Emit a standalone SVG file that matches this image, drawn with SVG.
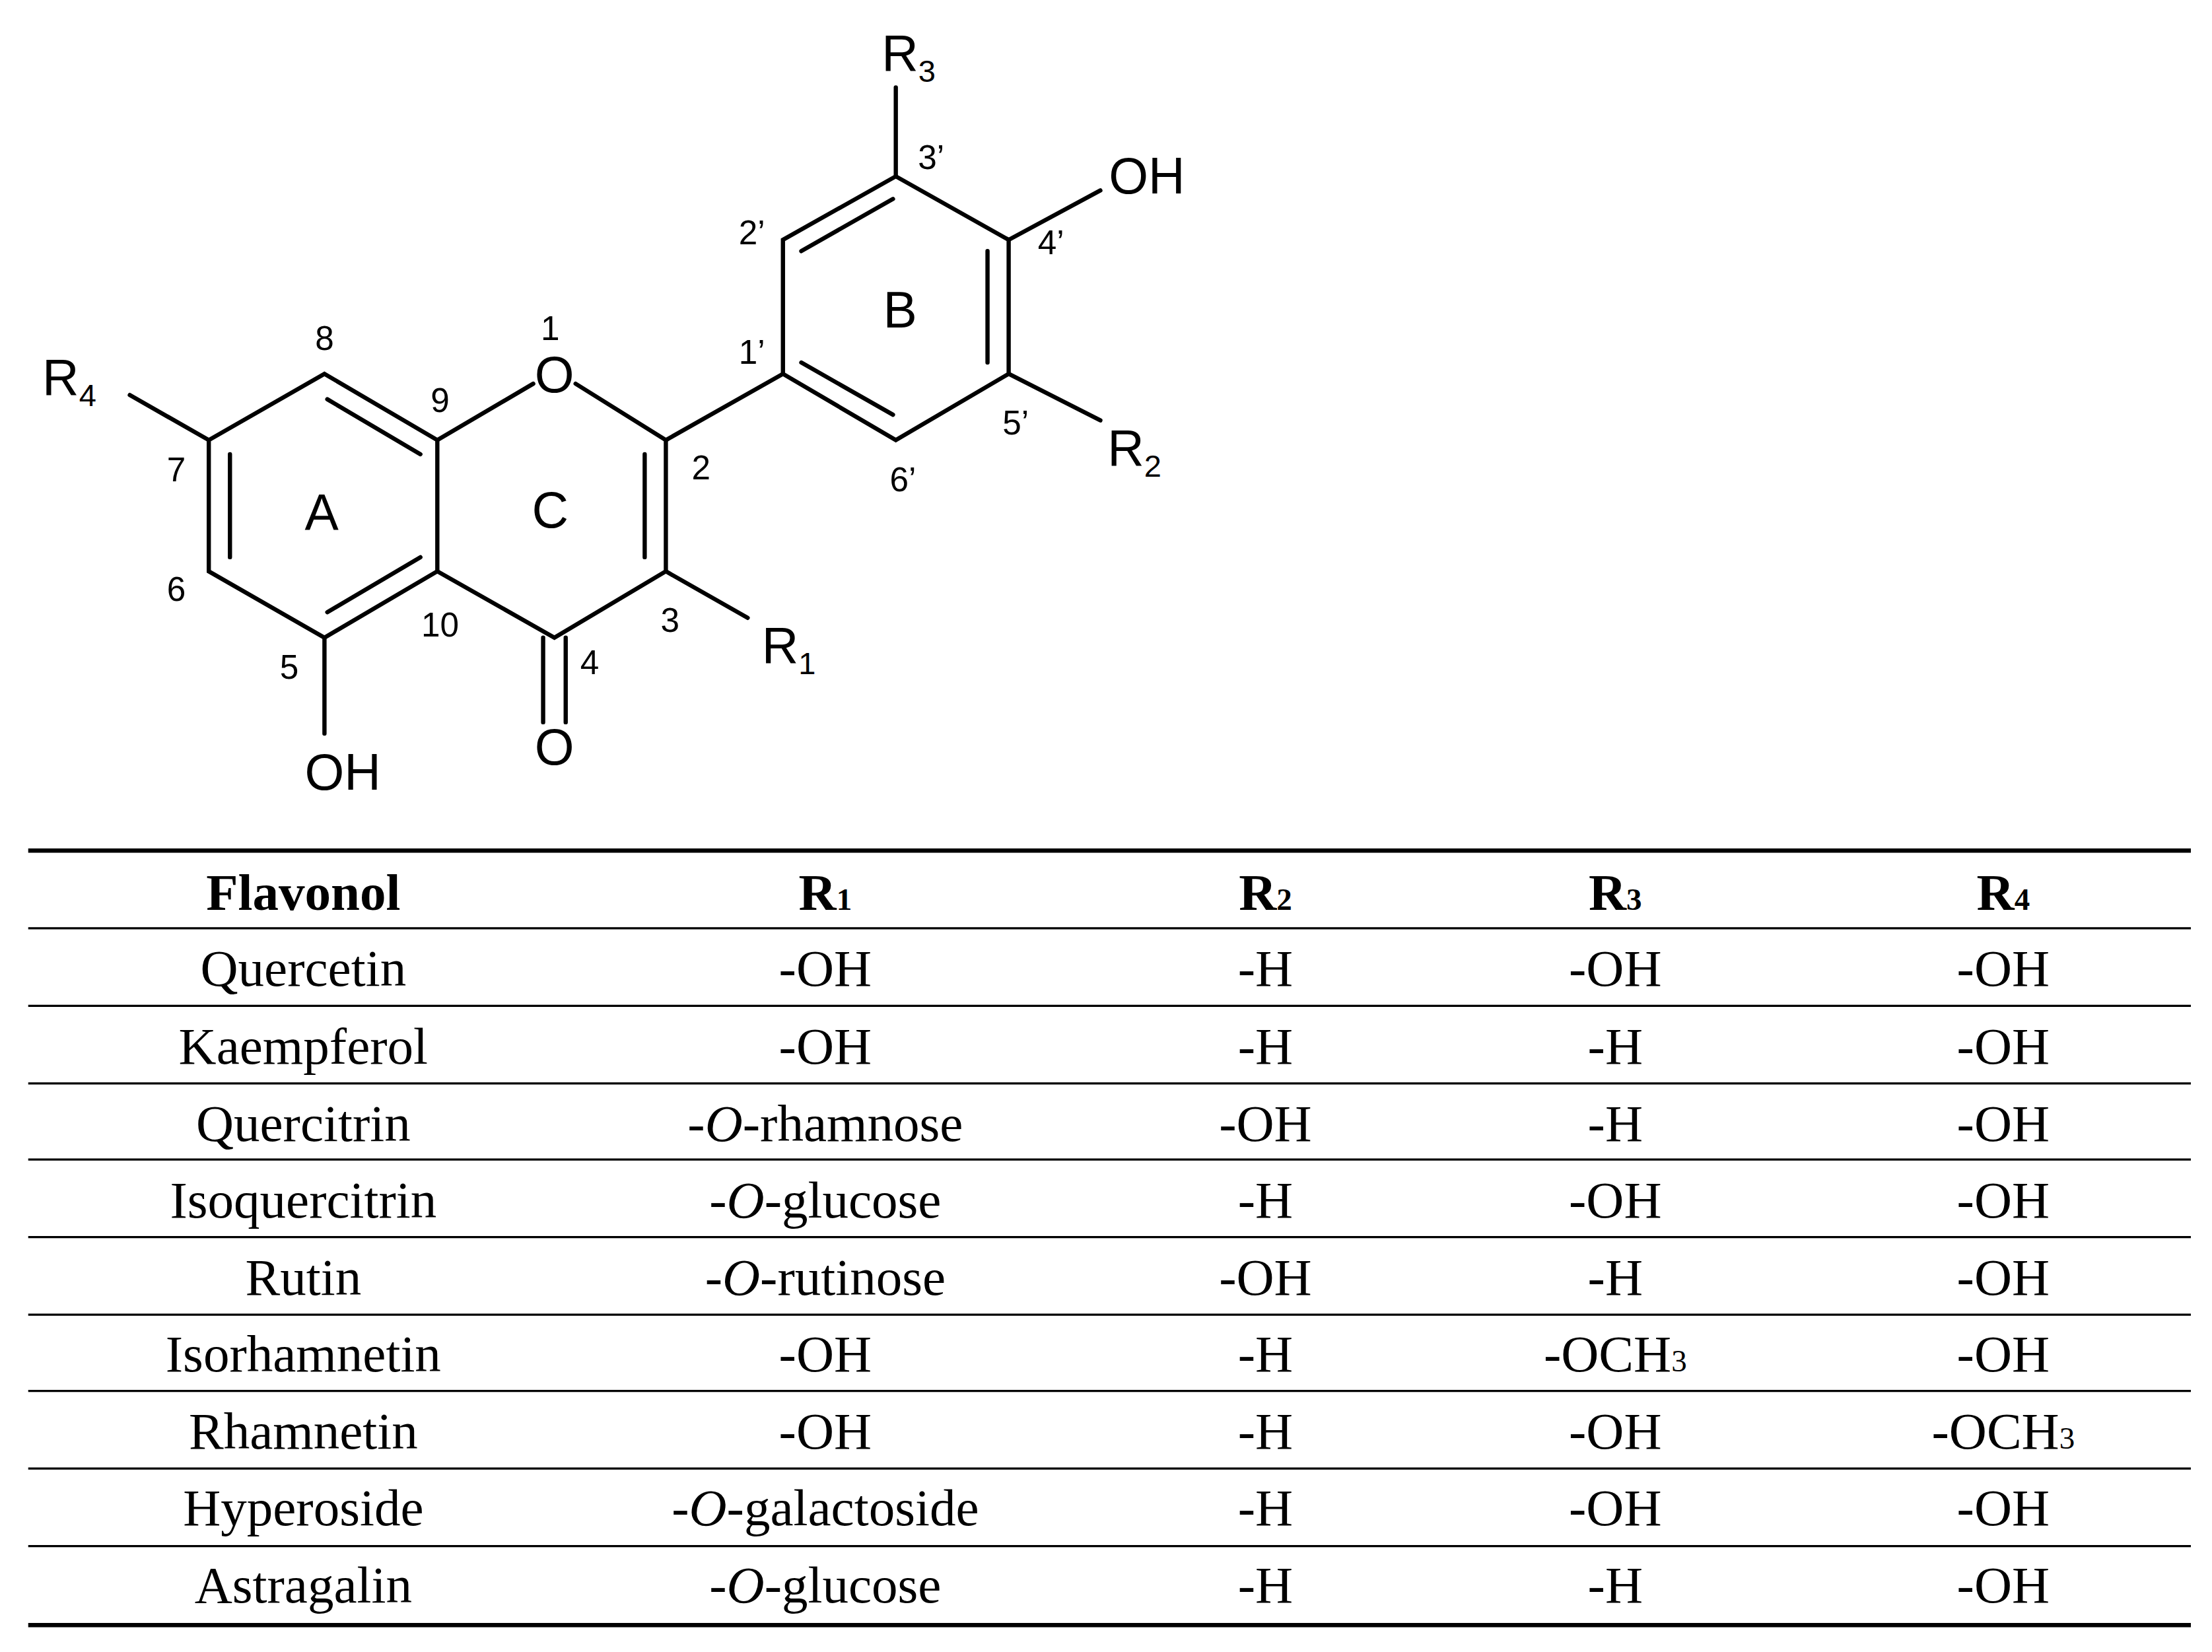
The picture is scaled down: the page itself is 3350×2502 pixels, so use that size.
<svg xmlns="http://www.w3.org/2000/svg" width="3350" height="2502" viewBox="0 0 3350 2502">
<style>
.b{stroke:#000;stroke-width:3;fill:none;stroke-linecap:round}
.s{font-family:"Liberation Sans",Arial,sans-serif;fill:#000}
.n{font-size:24px}
.a{font-size:36px}
.t{font-family:"Liberation Serif","Times New Roman",serif;font-size:37px;fill:#000;text-anchor:middle}
.h{font-weight:bold}
.sub{font-size:22px}
</style>
<rect width="3350" height="2502" fill="#fff"/>
<g transform="scale(2.1365)">
<g id="structure">
<path class="b" d="M230,265 L310,312 L310,405 L230,452 L148,405 L148,312 Z"/>
<path class="b" d="M232,283 L298,322 M163,322 L163,395 M232,434 L298,395"/>
<path class="b" d="M310,312 L378,272 M408,272 L472,312 L472,405 L393,452 L310,405"/>
<path class="b" d="M457,322 L457,395"/>
<path class="b" d="M385,452 L385,512 M401,452 L401,512"/>
<path class="b" d="M230,452 L230,520"/>
<path class="b" d="M148,312 L92,280"/>
<path class="b" d="M472,405 L530,438"/>
<path class="b" d="M472,312 L555,265"/>
<path class="b" d="M555,265 L555,170 L635,125 L715,170 L715,265 L635,312 Z"/>
<path class="b" d="M568,178 L633,141 M700,178 L700,257 M568,257 L633,294"/>
<path class="b" d="M635,125 L635,62"/>
<path class="b" d="M715,170 L780,135"/>
<path class="b" d="M715,265 L780,298"/>
<text class="s a" x="393" y="278" text-anchor="middle">O</text>
<text class="s a" x="393" y="542" text-anchor="middle">O</text>
<text class="s a" x="243" y="560" text-anchor="middle">OH</text>
<text class="s a" x="813" y="137" text-anchor="middle">OH</text>
<text class="s a" x="30" y="280">R<tspan class="sub" dy="8">4</tspan></text>
<text class="s a" x="540" y="470">R<tspan class="sub" dy="8">1</tspan></text>
<text class="s a" x="625" y="50">R<tspan class="sub" dy="8">3</tspan></text>
<text class="s a" x="785" y="330">R<tspan class="sub" dy="8">2</tspan></text>
<text class="s a" x="228" y="376" text-anchor="middle">A</text>
<text class="s a" x="390" y="374" text-anchor="middle">C</text>
<text class="s a" x="638" y="232" text-anchor="middle">B</text>
<g class="s n" text-anchor="middle">
<text x="230" y="248">8</text><text x="390" y="241">1</text><text x="312" y="292">9</text>
<text x="125" y="341">7</text><text x="497" y="340">2</text><text x="125" y="426">6</text>
<text x="312" y="451">10</text><text x="475" y="448">3</text><text x="418" y="478">4</text>
<text x="205" y="481">5</text><text x="533" y="173">2’</text><text x="660" y="120">3’</text>
<text x="745" y="180">4’</text><text x="533" y="258">1’</text><text x="720" y="308">5’</text>
<text x="640" y="348">6’</text>
</g>
</g>
<g id="table">
<path stroke="#000" stroke-width="3" d="M20,603 H1553 M20,1152 H1553"/>
<path stroke="#000" stroke-width="1.5" d="M20,658 H1553 M20,713 H1553 M20,768 H1553 M20,822 H1553 M20,877 H1553 M20,932 H1553 M20,986 H1553 M20,1041 H1553 M20,1096 H1553"/>
<g class="t h">
<text x="215" y="645">Flavonol</text>
<text x="585" y="645">R<tspan class="sub">1</tspan></text>
<text x="897" y="645">R<tspan class="sub">2</tspan></text>
<text x="1145" y="645">R<tspan class="sub">3</tspan></text>
<text x="1420" y="645">R<tspan class="sub">4</tspan></text>
</g>
<g class="t">
<text x="215" y="699">Quercetin</text><text x="585" y="699">-OH</text><text x="897" y="699">-H</text><text x="1145" y="699">-OH</text><text x="1420" y="699">-OH</text>
<text x="215" y="754">Kaempferol</text><text x="585" y="754">-OH</text><text x="897" y="754">-H</text><text x="1145" y="754">-H</text><text x="1420" y="754">-OH</text>
<text x="215" y="809">Quercitrin</text><text x="585" y="809">-<tspan font-style="italic">O</tspan>-rhamnose</text><text x="897" y="809">-OH</text><text x="1145" y="809">-H</text><text x="1420" y="809">-OH</text>
<text x="215" y="863">Isoquercitrin</text><text x="585" y="863">-<tspan font-style="italic">O</tspan>-glucose</text><text x="897" y="863">-H</text><text x="1145" y="863">-OH</text><text x="1420" y="863">-OH</text>
<text x="215" y="918">Rutin</text><text x="585" y="918">-<tspan font-style="italic">O</tspan>-rutinose</text><text x="897" y="918">-OH</text><text x="1145" y="918">-H</text><text x="1420" y="918">-OH</text>
<text x="215" y="972">Isorhamnetin</text><text x="585" y="972">-OH</text><text x="897" y="972">-H</text><text x="1145" y="972">-OCH<tspan class="sub">3</tspan></text><text x="1420" y="972">-OH</text>
<text x="215" y="1027">Rhamnetin</text><text x="585" y="1027">-OH</text><text x="897" y="1027">-H</text><text x="1145" y="1027">-OH</text><text x="1420" y="1027">-OCH<tspan class="sub">3</tspan></text>
<text x="215" y="1081">Hyperoside</text><text x="585" y="1081">-<tspan font-style="italic">O</tspan>-galactoside</text><text x="897" y="1081">-H</text><text x="1145" y="1081">-OH</text><text x="1420" y="1081">-OH</text>
<text x="215" y="1136">Astragalin</text><text x="585" y="1136">-<tspan font-style="italic">O</tspan>-glucose</text><text x="897" y="1136">-H</text><text x="1145" y="1136">-H</text><text x="1420" y="1136">-OH</text>
</g>
</g>
</g>
</svg>
